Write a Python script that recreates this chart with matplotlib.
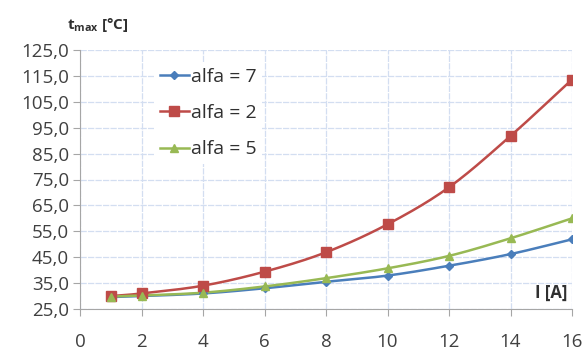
import numpy as np
import matplotlib
matplotlib.use("Agg")
import matplotlib.pyplot as plt

current = [1, 2, 4, 6, 8, 10, 12, 14, 16]
alfa7 = [29.6, 30.0, 31.0, 33.0, 35.5, 37.9, 41.7, 46.2, 51.9]
alfa2 = [30.0, 31.0, 34.0, 39.4, 46.9, 57.7, 72.0, 91.8, 113.6]
alfa5 = [29.8, 30.2, 31.3, 33.7, 36.9, 40.7, 45.5, 52.3, 60.0]
labels = ["alfa = 7", "alfa = 2", "alfa = 5"]
yticks = [25, 35, 45, 55, 65, 75, 85, 95, 105, 115, 125]
xticks = [0, 2, 4, 6, 8, 10, 12, 14, 16]

plt.rcParams['font.family'] = ['Open Sans', 'DejaVu Sans']

def smooth(x, y, n=20):
    x = np.asarray(x, float); y = np.asarray(y, float)
    px = np.concatenate([[2*x[0]-x[1]], x, [2*x[-1]-x[-2]]])
    py = np.concatenate([[2*y[0]-y[1]], y, [2*y[-1]-y[-2]]])
    xs, ys = [], []
    for i in range(1, len(px)-2):
        t = np.linspace(0, 1, n, endpoint=(i == len(px)-3))
        for arr, out in ((px, xs), (py, ys)):
            p0, p1, p2, p3 = arr[i-1], arr[i], arr[i+1], arr[i+2]
            out.extend(0.5*((2*p1) + (-p0+p2)*t + (2*p0-5*p1+4*p2-p3)*t**2 + (-p0+3*p1-3*p2+p3)*t**3))
    return xs, ys

fig = plt.figure(figsize=(5.82, 3.52), dpi=100)
ax = fig.add_axes([80/582, 1-309/352, (572-80)/582, (309-50)/352])

series = [
    (alfa7, '#4A7EBB', 'D', 4),
    (alfa2, '#BE4B48', 's', 7),
    (alfa5, '#98B954', '^', 6),
]
handles = []
for (vals, col, mk, ms), lab in zip(series, labels):
    sx, sy = smooth(current, vals)
    ax.plot(sx, sy, color=col, lw=1.8, zorder=3)
    ax.plot(current, vals, ls='none', marker=mk, ms=ms, color=col, zorder=4)
    h, = ax.plot([], [], color=col, lw=1.8, marker=mk, ms=ms)
    handles.append(h)

ax.set_xlim(0, 16)
ax.set_ylim(25, 125)
ax.set_xticks(xticks)
ax.set_yticks(yticks)
ax.set_yticklabels([f"{v:.1f}".replace('.', ',') for v in yticks])
ax.grid(True, color='#D3DEF1', lw=0.9, ls=(0, (5, 1)))
ax.set_axisbelow(True)
for s in ('top', 'right'):
    ax.spines[s].set_visible(False)
for s in ('left', 'bottom'):
    ax.spines[s].set_color('#A6A6A6')
ax.tick_params(axis='both', colors='#A6A6A6', labelcolor='#404040', labelsize=13.5, length=5)
ax.tick_params(axis='x', pad=12)
ax.tick_params(axis='y', pad=3)

fig.text(67/582, 1-25/352, r"t$_{\mathregular{max}}$ [°C]", fontsize=11, color='#303030', fontweight='bold', va='center')
ax.text(567/582, 1-293/352, "I [A]", transform=fig.transFigure, fontsize=12, color='#303030', fontweight='bold', ha='right', va='center')

leg = ax.legend(handles, labels, loc='upper left', bbox_to_anchor=(144/582, 1-52/352), bbox_transform=fig.transFigure,
                frameon=True, facecolor='white', edgecolor='none', framealpha=1, fontsize=14,
                handlelength=1.5, handletextpad=0.1, labelspacing=0.95, borderpad=0.3)
for t in leg.get_texts():
    t.set_color('#303030')

fig.savefig('out.png', dpi=100)
